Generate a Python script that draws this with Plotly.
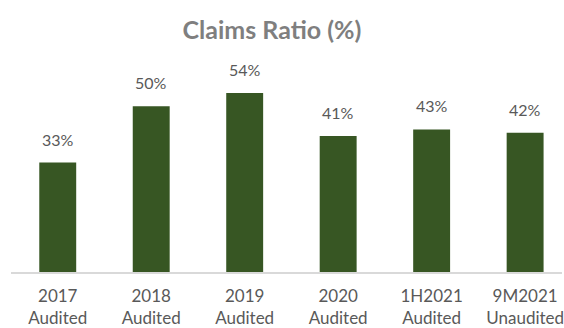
import plotly.graph_objects as go

# Claims ratio by reporting period
periods = ["2017", "2018", "2019", "2020", "1H2021", "9M2021"]
statuses = ["Audited", "Audited", "Audited", "Audited", "Audited", "Unaudited"]
claims_ratio = [33, 50, 54, 41, 43, 42]

tick_text = [f"{p}<br>{s}" for p, s in zip(periods, statuses)]
value_font = dict(family="Lato, Carlito, sans-serif", size=16, color="#595959")
tick_font = dict(family="Lato, Carlito, sans-serif", size=17, color="#595959")

fig = go.Figure()
fig.add_trace(go.Bar(
    x=list(range(len(periods))),
    y=claims_ratio,
    width=0.395,
    marker=dict(color="#375623", line=dict(width=0)),
    hoverinfo="skip",
))

# value labels above each bar
for i, v in enumerate(claims_ratio):
    fig.add_annotation(
        x=i, y=v, xref="x", yref="y",
        text=f"{v}%", showarrow=False,
        yanchor="bottom", yshift=12,
        font=value_font,
    )

fig.update_layout(
    width=564, height=328,
    margin=dict(l=10.5, r=0, t=73, b=55),
    paper_bgcolor="white", plot_bgcolor="white",
    showlegend=False,
    title=dict(
        text="<b>Claims Ratio (%)</b>",
        x=272 / 564, xref="container", xanchor="center",
        y=1 - 30 / 328, yref="container", yanchor="middle",
        font=dict(family="Lato, Carlito, sans-serif", size=25, color="#7f7f7f"),
    ),
    xaxis=dict(
        range=[-0.5, -0.5 + 553.5 / 93.9],
        tickmode="array",
        tickvals=list(range(len(periods))),
        ticktext=tick_text,
        tickfont=tick_font,
        ticklabelstandoff=8,
        ticklabeloverflow="allow",
        showline=True, linecolor="#d9d9d9", linewidth=1.5,
        showgrid=False, zeroline=False, ticks="",
    ),
    yaxis=dict(
        range=[0, 60], visible=False, showgrid=False, zeroline=False,
    ),
)

fig.write_html("out.html")
